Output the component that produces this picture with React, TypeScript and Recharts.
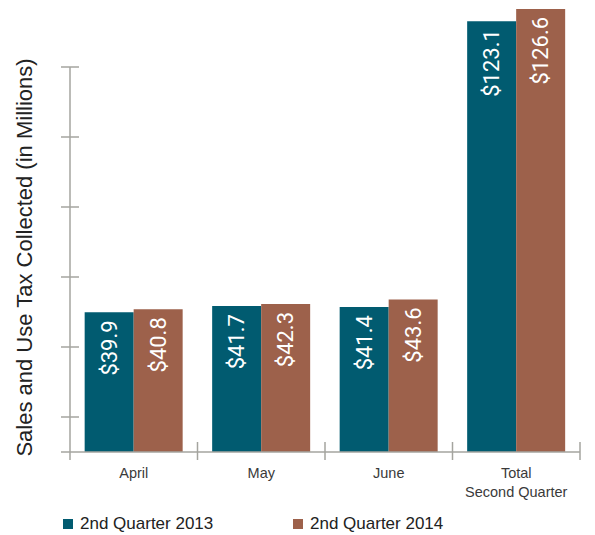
import React from "react";
import {
  BarChart,
  Bar,
  XAxis,
  YAxis,
  Legend,
  LabelList,
} from "recharts";

const categories = ["April", "May", "June", "Total\nSecond Quarter"];
const q2013 = [39.9, 41.7, 41.4, 123.1];
const q2014 = [40.8, 42.3, 43.6, 126.6];
const yTicks = [0, 10, 30, 50, 70, 90, 110];
const seriesNames = ["2nd Quarter 2013", "2nd Quarter 2014"];
const seriesColors = ["#015b70", "#9d614b"];

const data = categories.map((c, i) => ({ name: c, a: q2013[i], b: q2014[i] }));

const AXIS = "#a4a49f";

const YTick = (props: any) => {
  const { x, y, payload } = props;
  if (payload.value === 0) {
    return (
      <g>
        <line x1={x - 9} x2={x} y1={y} y2={y} stroke={AXIS} strokeWidth={1.5} />
        <line x1={x} x2={x} y1={y} y2={y + 8} stroke={AXIS} strokeWidth={1.5} />
      </g>
    );
  }
  return <line x1={x - 9} x2={x + 9} y1={y} y2={y} stroke={AXIS} strokeWidth={1.5} />;
};

const XTick = (props: any) => {
  const { x, y, payload } = props;
  const half = payload.offset || 63.75;
  const lines = String(payload.value).split("\n");
  return (
    <g>
      <line x1={x + half} x2={x + half} y1={y - 10} y2={y + 8} stroke={AXIS} strokeWidth={1.5} />
      {lines.map((l, i) => (
        <text
          key={i}
          x={x}
          y={y + 26 + i * 19}
          textAnchor="middle"
          fontFamily="Liberation Sans, Arial, sans-serif"
          fontSize={14.5}
          fill="#3a3a3a"
        >
          {l}
        </text>
      ))}
    </g>
  );
};

const BarValue = (props: any) => {
  const { x, y, width, value } = props;
  const cx = x + width / 2;
  const ty = y + 8;
  return (
    <text
      x={cx}
      y={ty}
      transform={`rotate(-90, ${cx}, ${ty})`}
      textAnchor="end"
      dominantBaseline="central"
      fill="#ffffff"
      fontFamily="Roboto, sans-serif"
      fontSize={22}
    >
      {`$${Number(value).toFixed(1)}`}
    </text>
  );
};

const LegendContent = (props: any) => {
  const items = props.payload || [];
  const lefts = [63, 293];
  return (
    <div style={{ position: "relative", height: 30, width: 595 }}>
      {items.map((it: any, i: number) => (
        <div key={i} style={{ position: "absolute", left: lefts[i], top: 12, display: "flex", alignItems: "center" }}>
          <span style={{ width: 10, height: 10, background: it.color, display: "inline-block", marginRight: 7 }} />
          <span style={{ fontFamily: "Liberation Sans, Arial, sans-serif", fontSize: 17, color: "#222", lineHeight: "14px" }}>
            {it.value}
          </span>
        </div>
      ))}
    </div>
  );
};

export default function App() {
  return (
    <div style={{ position: "absolute", left: 0, top: 0, width: 595, height: 535, background: "#fff" }}>
      <style>{`.recharts-wrapper svg [clip-path]{clip-path:none !important}`}</style>
      <BarChart
        width={595}
        height={535}
        data={data}
        margin={{ top: 67, right: 15, bottom: 0, left: 0 }}
        barGap={0}
        barCategoryGap="11.5%"
      >
        <XAxis
          dataKey="name"
          axisLine={{ stroke: AXIS, strokeWidth: 1.5 }}
          tickLine={false}
          tickSize={0}
          tickMargin={0}
          height={53}
          interval={0}
          tick={<XTick />}
        />
        <YAxis
          type="number"
          domain={[0, 110]}
          allowDataOverflow
          ticks={yTicks}
          width={70}
          axisLine={{ stroke: AXIS, strokeWidth: 1.5 }}
          tickLine={false}
          tickSize={0}
          tickMargin={0}
          tick={<YTick />}
          label={{
            value: "Sales and Use Tax Collected (in Millions)",
            angle: -90,
            position: "center",
            dx: -11,
            dy: -2,
            style: { fontFamily: "Liberation Sans, Arial, sans-serif", fontSize: 22, fill: "#222" },
          }}
        />
        <Legend verticalAlign="bottom" height={30} wrapperStyle={{ left: 0, width: 595, bottom: 0 }} content={<LegendContent />} />
        <Bar dataKey="a" name={seriesNames[0]} fill={seriesColors[0]} isAnimationActive={false}>
          <LabelList dataKey="a" content={<BarValue />} />
        </Bar>
        <Bar dataKey="b" name={seriesNames[1]} fill={seriesColors[1]} isAnimationActive={false}>
          <LabelList dataKey="b" content={<BarValue />} />
        </Bar>
      </BarChart>
    </div>
  );
}
